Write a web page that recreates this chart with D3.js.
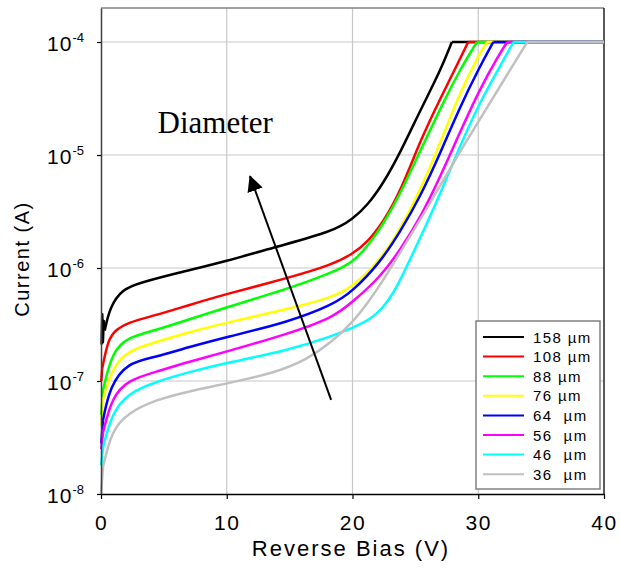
<!DOCTYPE html>
<html>
<head>
<meta charset="utf-8">
<script src="https://cdn.jsdelivr.net/npm/d3@7"></script>
<style>
  body { margin: 0; background: #fff; }
  text { font-family: "Liberation Sans", Arial, sans-serif; }
</style>
</head>
<body>
<div id="chart"></div>
<script>
// reverse bias (V), current (A), per diameter
const curve158 = [[0.05, 2.1e-7], [0.1, 3.9e-7], [0.15, 2.2e-7], [0.22, 3.4e-7], [0.3, 2.8e-7], [0.7, 4.5e-7], [1.7, 6.5e-7],
    [3.1, 7.4e-7], [6, 9.0e-7], [10, 1.15e-6], [14, 1.55e-6], [18.4, 2.1e-6], [20, 2.7e-6], [21.2, 3.6e-6], [22.4, 5.5e-6],
    [23.8, 1.05e-5], [25.4, 2.5e-5], [27, 5.6e-5], [27.9, 1e-4], [40, 1e-4]];
const curve108 = [[0.02, 1.0e-7], [0.1, 1.3e-7], [0.56, 2.3e-7], [1.1, 2.8e-7], [2.15, 3.3e-7], [4.3, 3.8e-7], [7, 4.7e-7],
    [10, 5.9e-7], [14.8, 8.1e-7], [18.4, 1.07e-6], [20, 1.33e-6], [21.2, 1.7e-6], [22.4, 2.5e-6], [23.8, 4.7e-6],
    [25.4, 1.35e-5], [27, 3.2e-5], [28.5, 6.9e-5], [29.2, 1e-4], [40, 1e-4]];
const curve88 = [[0.02, 5.0e-8], [0.16, 8.3e-8], [0.87, 1.8e-7], [2.15, 2.45e-7], [4.3, 2.8e-7], [7, 3.5e-7], [10, 4.5e-7],
    [14.8, 6.5e-7], [18.4, 9.1e-7], [20, 1.12e-6], [21.2, 1.55e-6], [22.4, 2.4e-6], [23.8, 4.5e-6], [25.4, 1.1e-5],
    [27, 2.6e-5], [28.5, 5.6e-5], [29.9, 1e-4], [40, 1e-4]];
const curve76 = [[0.02, 4.0e-8], [0.16, 6.8e-8], [0.87, 1.3e-7], [2.15, 1.86e-7], [4.3, 2.2e-7], [7, 2.7e-7], [10, 3.3e-7],
    [14.8, 4.3e-7], [18.4, 5.5e-7], [20, 6.8e-7], [22.2, 1.17e-6], [23.8, 2.2e-6], [25.4, 4.9e-6], [27, 1.29e-5],
    [28.5, 3.5e-5], [30.1, 7.9e-5], [30.7, 1e-4], [40, 1e-4]];
const curve64 = [[0.02, 2.8e-8], [0.16, 4.5e-8], [0.7, 8.9e-8], [2.07, 1.45e-7], [4.3, 1.62e-7], [7, 2.0e-7], [10, 2.45e-7],
    [14.8, 3.3e-7], [18.4, 4.7e-7], [20, 6.2e-7], [22.2, 1.12e-6], [23.8, 2.1e-6], [25.4, 4.3e-6], [27, 1.05e-5],
    [28.5, 2.6e-5], [30.1, 6.0e-5], [31.2, 1e-4], [40, 1e-4]];
const curve56 = [[0.02, 2.5e-8], [0.16, 3.5e-8], [0.87, 7.2e-8], [2.15, 1.02e-7], [4.3, 1.2e-7], [7, 1.48e-7], [10, 1.82e-7],
    [14.8, 2.6e-7], [18.4, 3.6e-7], [20, 5.0e-7], [22.2, 8.3e-7], [23.8, 1.45e-6], [25.4, 2.8e-6], [27, 6.5e-6],
    [28.5, 1.55e-5], [30.1, 3.8e-5], [31.7, 7.9e-5], [32.3, 1e-4], [40, 1e-4]];
const curve46 = [[0.02, 1.8e-8], [0.16, 2.6e-8], [0.87, 5.2e-8], [2.15, 7.8e-8], [4.3, 9.8e-8], [7, 1.2e-7], [10, 1.45e-7],
    [14.8, 1.86e-7], [18.4, 2.5e-7], [20, 2.95e-7], [21.4, 3.5e-7], [22.4, 4.4e-7], [23.2, 5.9e-7], [23.8, 7.8e-7],
    [25.4, 1.86e-6], [27, 4.6e-6], [28.5, 1.17e-5], [30.1, 2.9e-5], [31.7, 6.0e-5], [32.8, 1e-4], [40, 1e-4]];
const curve36 = [[0, 1.0e-8], [0.16, 1.74e-8], [0.87, 3.7e-8], [2.15, 5.2e-8], [4.3, 6.8e-8], [7, 8.1e-8], [10, 9.5e-8],
    [13.7, 1.17e-7], [16.4, 1.55e-7], [18.4, 2.24e-7], [20, 3.3e-7], [21.2, 4.9e-7], [22.4, 7.6e-7], [23.8, 1.38e-6],
    [25.4, 2.7e-6], [27, 5.4e-6], [28.5, 1.05e-5], [30.1, 2.04e-5], [31.7, 4.0e-5], [33.3, 7.8e-5], [33.9, 1e-4], [40, 1e-4]];

const labels = ["158 \u00b5m", "108 \u00b5m", "88 \u00b5m", "76 \u00b5m", "64  \u00b5m", "56  \u00b5m", "46  \u00b5m", "36  \u00b5m"];
const colors = ["#000000", "#ff0000", "#00ff00", "#ffff00", "#0000ff", "#ff00ff", "#00ffff", "#c0c0c0"];
const curves = [curve158, curve108, curve88, curve76, curve64, curve56, curve46, curve36];

const xTicks = [0, 10, 20, 30, 40];
const yTicks = [1e-8, 1e-7, 1e-6, 1e-5, 1e-4];
const compliance = 1e-4;

// annotation: arrow from [V, A] to [V, A] and label position
const arrowFrom = [18.3, 6.8e-8];
const arrowTo = [11.85, 6.5e-6];
const noteAt = [4.5, 1.57e-5];

const width = 620, height = 568;
const x = d3.scaleLinear().domain([0, 40]).range([101, 604]);
const y = d3.scaleLog().domain([1e-8, 2e-4]).range([494, 8]);

const svg = d3.select("#chart").append("svg")
    .attr("width", width)
    .attr("height", height);

// grid
svg.append("g").selectAll("line")
    .data(yTicks.slice(1))
    .enter().append("line")
    .attr("x1", x(0)).attr("x2", x(40))
    .attr("y1", d => y(d)).attr("y2", d => y(d))
    .attr("stroke", "#c8c8c8").attr("stroke-width", 1.2);
svg.append("g").selectAll("line")
    .data(xTicks.slice(1, -1))
    .enter().append("line")
    .attr("x1", d => x(d)).attr("x2", d => x(d))
    .attr("y1", y.range()[1]).attr("y2", y.range()[0])
    .attr("stroke", "#c8c8c8").attr("stroke-width", 1.2);

// frame
const [yb, yt] = y.range();
svg.append("line").attr("x1", x(0)).attr("x2", x(40)).attr("y1", yt).attr("y2", yt)
    .attr("stroke", "#808080").attr("stroke-width", 1.5);
svg.append("line").attr("x1", x(40)).attr("x2", x(40)).attr("y1", yt).attr("y2", yb)
    .attr("stroke", "#000").attr("stroke-width", 1.3);

// curves: raw start near 0 V, smoothed body, flat compliance tail
const lineGen = d3.line()
    .x(d => x(d[0]))
    .y(d => y(d[1]));

curves.forEach((pts, i) => {
    let s = pts.findIndex(p => p[0] > 0.3);
    let k = pts.findIndex(p => p[1] >= compliance);
    let parts = [
        [pts.slice(0, s), d3.curveLinear],
        [pts.slice(s - 1, k + 1), d3.curveBasis],
        [pts.slice(k), d3.curveLinear]
    ];
    parts.forEach(([seg, c]) => {
        if (seg.length < 2) return;
        svg.append("path")
            .attr("d", lineGen.curve(c)(seg))
            .attr("fill", "none")
            .attr("stroke", colors[i])
            .attr("stroke-width", 2.5)
            .attr("stroke-linejoin", "round");
    });
});

// axes
const xAxis = svg.append("g")
    .attr("transform", `translate(0,${yb})`)
    .call(d3.axisBottom(x).tickValues(xTicks).tickSize(5).tickSizeOuter(0));
xAxis.select(".domain").attr("stroke", "#000").attr("stroke-width", 1.5);
xAxis.selectAll(".tick line").attr("stroke", "#000").attr("stroke-width", 1.2);
xAxis.selectAll(".tick text")
    .attr("y", 36).attr("dy", 0)
    .attr("font-size", "21px")
    .attr("letter-spacing", "1.5px")
    .attr("fill", "#000");

const yAxis = svg.append("g")
    .attr("transform", `translate(${x(0)},0)`)
    .call(d3.axisLeft(y).tickValues(yTicks).tickSize(4).tickSizeOuter(0).tickFormat(""));
yAxis.select(".domain").attr("stroke", "#404040").attr("stroke-width", 1.5);
yAxis.selectAll(".tick line").attr("stroke", "#000").attr("stroke-width", 1.2);

const ylab = yAxis.selectAll(".tick").append("text")
    .attr("x", -17)
    .attr("y", 8)
    .attr("text-anchor", "end")
    .attr("fill", "#000")
    .attr("font-size", "21px");
ylab.append("tspan").attr("letter-spacing", "1px").text("10");
ylab.append("tspan")
    .attr("font-size", "13px")
    .attr("dy", -9)
    .text(d => Math.round(Math.log10(d)));

// axis titles
svg.append("text")
    .attr("x", 351).attr("y", 556)
    .attr("text-anchor", "middle")
    .attr("font-size", "22px")
    .attr("letter-spacing", "2px")
    .text("Reverse Bias (V)");

svg.append("text")
    .attr("transform", "translate(29,259) rotate(-90)")
    .attr("text-anchor", "middle")
    .attr("font-size", "20px")
    .attr("letter-spacing", "1.5px")
    .text("Current (A)");

// annotation
svg.append("defs").append("marker")
    .attr("id", "head")
    .attr("viewBox", "0 0 16 16")
    .attr("refX", 15).attr("refY", 8)
    .attr("markerWidth", 16).attr("markerHeight", 16)
    .attr("markerUnits", "userSpaceOnUse")
    .attr("orient", "auto")
    .append("path")
    .attr("d", "M0,0 L16,8 L0,16 Z")
    .attr("fill", "#000");

svg.append("line")
    .attr("x1", x(arrowFrom[0])).attr("y1", y(arrowFrom[1]))
    .attr("x2", x(arrowTo[0])).attr("y2", y(arrowTo[1]))
    .attr("stroke", "#000").attr("stroke-width", 2)
    .attr("marker-end", "url(#head)");

svg.append("text")
    .attr("x", x(noteAt[0])).attr("y", y(noteAt[1]))
    .style("font-family", "'Liberation Serif', 'Times New Roman', serif")
    .attr("font-size", "31px")
    .text("Diameter");

// legend
const lg = svg.append("g");
lg.append("rect")
    .attr("x", 476).attr("y", 321)
    .attr("width", 124).attr("height", 168)
    .attr("fill", "#fff")
    .attr("stroke", "#808080").attr("stroke-width", 1.5);

labels.forEach((lab, i) => {
    let ly = 337 + i * 19.6;
    lg.append("line")
        .attr("x1", 483).attr("x2", 524)
        .attr("y1", ly).attr("y2", ly)
        .attr("stroke", colors[i]).attr("stroke-width", 2);
    lg.append("text")
        .attr("x", 533).attr("y", ly + 5.5)
        .attr("font-size", "15px")
        .attr("letter-spacing", "1.4px")
        .style("white-space", "pre")
        .text(lab);
});
</script>
</body>
</html>
